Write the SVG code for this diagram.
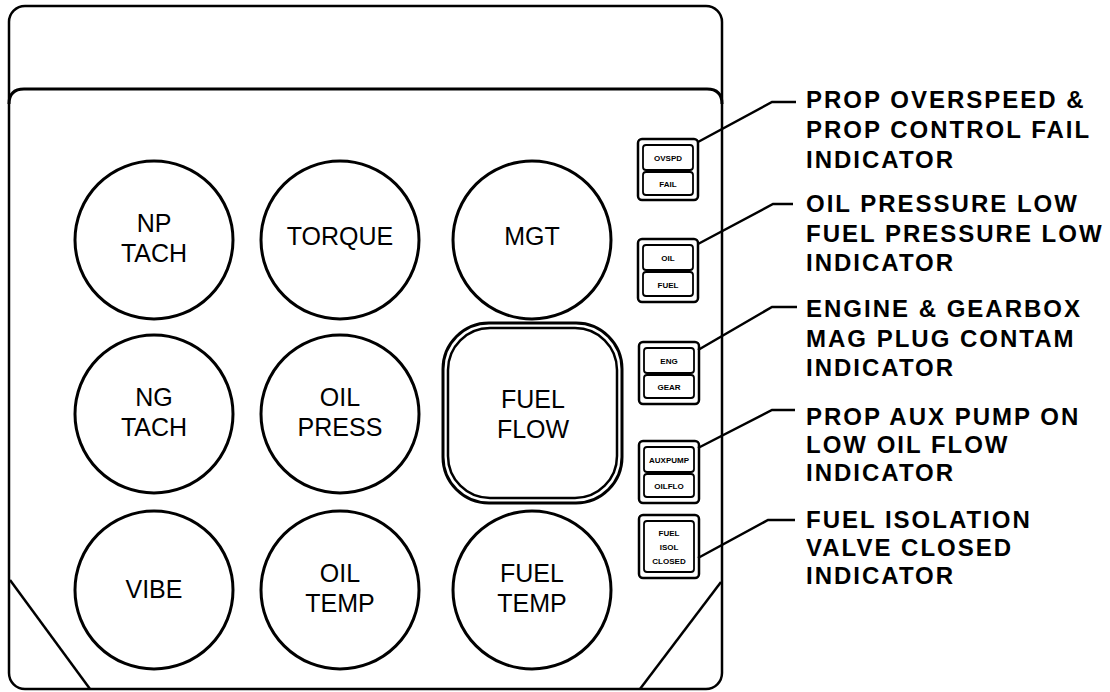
<svg xmlns="http://www.w3.org/2000/svg" width="1110" height="692" viewBox="0 0 1110 692">
<style>
.ln{fill:none;stroke:#000;stroke-width:2.5}
.th{fill:none;stroke:#000;stroke-width:3}
.g{fill:#fff;stroke:#000;stroke-width:3}
.gt{font-family:"Liberation Sans",Arial,sans-serif;font-size:25px;text-anchor:middle;fill:#000}
.lb{font-family:"Liberation Sans",Arial,sans-serif;font-size:24px;font-weight:bold;letter-spacing:2px;fill:#000}
.ib{fill:#fff;stroke:#000;stroke-width:2.5}
.iw{fill:#fff;stroke:#000;stroke-width:1.8}
.it{font-family:"Liberation Sans",Arial,sans-serif;font-size:8px;font-weight:bold;text-anchor:middle;fill:#000}
</style>
<rect width="1110" height="692" fill="#fff"/>
<g id="frame">
<rect class="ln" x="9" y="6" width="713" height="683" rx="16"/>
<path class="th" d="M9,104 Q9,89 24,89 L707,89 Q722,89 722,104"/>
<line class="ln" x1="10" y1="580" x2="90" y2="689"/>
<line class="ln" x1="721" y1="582" x2="640" y2="689"/>
</g>
<g id="np-tach"><circle class="g" cx="154" cy="240" r="79"/><text class="gt" x="154" y="232">NP</text><text class="gt" x="154" y="262">TACH</text></g>
<g id="torque"><circle class="g" cx="340" cy="240" r="79"/><text class="gt" x="340" y="245">TORQUE</text></g>
<g id="mgt"><circle class="g" cx="532" cy="240" r="79"/><text class="gt" x="532" y="245">MGT</text></g>
<g id="ng-tach"><circle class="g" cx="154" cy="414" r="79"/><text class="gt" x="154" y="406">NG</text><text class="gt" x="154" y="436">TACH</text></g>
<g id="oil-press"><circle class="g" cx="340" cy="414" r="79"/><text class="gt" x="340" y="406">OIL</text><text class="gt" x="340" y="436">PRESS</text></g>
<g id="fuel-flow"><rect class="g" x="443" y="323" width="179" height="180" rx="46"/><rect class="ln" x="448" y="328" width="169" height="170" rx="42" stroke-width="1.5"/><text class="gt" x="533" y="408">FUEL</text><text class="gt" x="533" y="438">FLOW</text></g>
<g id="vibe"><circle class="g" cx="154" cy="590" r="79"/><text class="gt" x="154" y="598">VIBE</text></g>
<g id="oil-temp"><circle class="g" cx="340" cy="590" r="79"/><text class="gt" x="340" y="582">OIL</text><text class="gt" x="340" y="612">TEMP</text></g>
<g id="fuel-temp"><circle class="g" cx="532" cy="590" r="79"/><text class="gt" x="532" y="582">FUEL</text><text class="gt" x="532" y="612">TEMP</text></g>
<g id="ind1"><rect class="ib" x="638" y="139" width="60" height="61" rx="4"/><rect class="iw" x="643" y="145" width="50" height="25" rx="3"/><rect class="iw" x="643" y="172" width="50" height="23" rx="3"/><text class="it" x="668" y="161">OVSPD</text><text class="it" x="668" y="187">FAIL</text></g>
<g id="ind2"><rect class="ib" x="638" y="239" width="60" height="63" rx="4"/><rect class="iw" x="643" y="245" width="50" height="25" rx="3"/><rect class="iw" x="643" y="272" width="50" height="24" rx="3"/><text class="it" x="668" y="261">OIL</text><text class="it" x="668" y="288">FUEL</text></g>
<g id="ind3"><rect class="ib" x="639" y="342" width="60" height="62" rx="4"/><rect class="iw" x="644" y="348" width="50" height="25" rx="3"/><rect class="iw" x="644" y="375" width="50" height="23" rx="3"/><text class="it" x="669" y="364">ENG</text><text class="it" x="669" y="390">GEAR</text></g>
<g id="ind4"><rect class="ib" x="639" y="441" width="60" height="62" rx="4"/><rect class="iw" x="644" y="447" width="50" height="25" rx="3"/><rect class="iw" x="644" y="474" width="50" height="23" rx="3"/><text class="it" x="669" y="463">AUXPUMP</text><text class="it" x="669" y="489">OILFLO</text></g>
<g id="ind5"><rect class="ib" x="639" y="515" width="60" height="63" rx="4"/><rect class="iw" x="644" y="521" width="50" height="51" rx="3"/><text class="it" x="669" y="536">FUEL</text><text class="it" x="669" y="550">ISOL</text><text class="it" x="669" y="564">CLOSED</text></g>
<g id="connectors">
<polyline class="ln" points="698,142 772,102 796,102"/>
<polyline class="ln" points="698,244 773,204 793,204"/>
<polyline class="ln" points="698,350 772,307 797,307"/>
<polyline class="ln" points="698,448 772,410 795,410"/>
<polyline class="ln" points="698,558 768,520 795,520"/>
</g>
<g id="labels">
<text class="lb" x="806" y="108">PROP OVERSPEED &amp;</text>
<text class="lb" x="806" y="138">PROP CONTROL FAIL</text>
<text class="lb" x="806" y="168">INDICATOR</text>
<text class="lb" x="806" y="212">OIL PRESSURE LOW</text>
<text class="lb" x="806" y="242">FUEL PRESSURE LOW</text>
<text class="lb" x="806" y="271">INDICATOR</text>
<text class="lb" x="806" y="317">ENGINE &amp; GEARBOX</text>
<text class="lb" x="806" y="347">MAG PLUG CONTAM</text>
<text class="lb" x="806" y="376">INDICATOR</text>
<text class="lb" x="806" y="425">PROP AUX PUMP ON</text>
<text class="lb" x="806" y="453">LOW OIL FLOW</text>
<text class="lb" x="806" y="481">INDICATOR</text>
<text class="lb" x="806" y="528">FUEL ISOLATION</text>
<text class="lb" x="806" y="556">VALVE CLOSED</text>
<text class="lb" x="806" y="584">INDICATOR</text>
</g>
</svg>
